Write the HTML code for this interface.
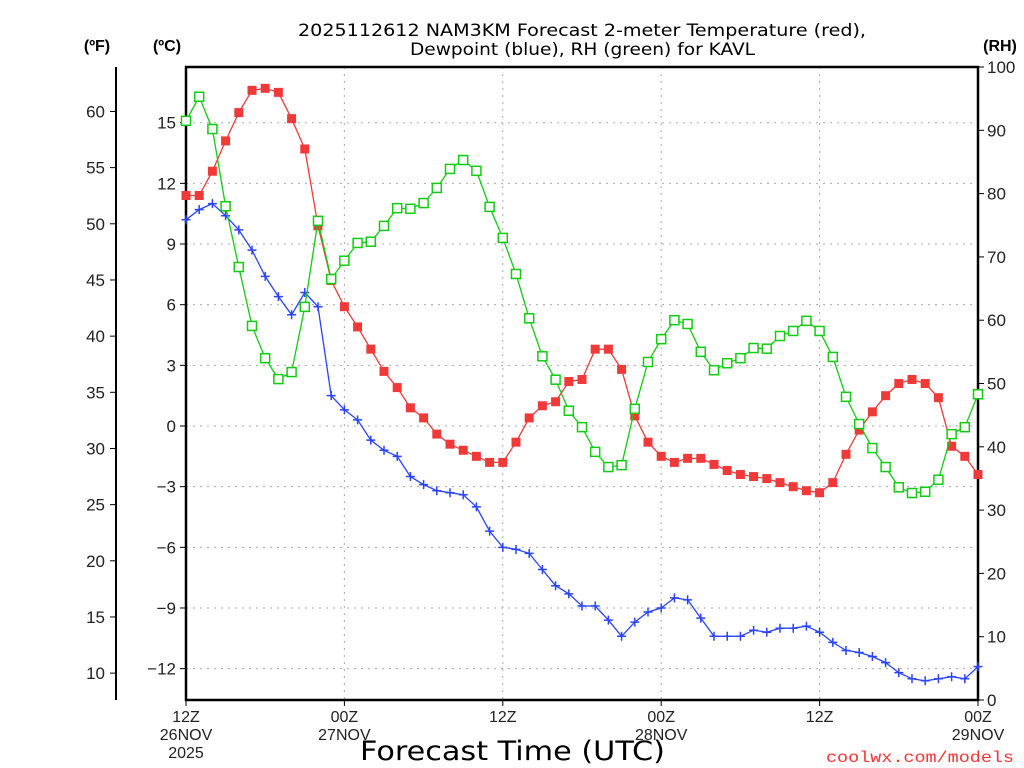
<!DOCTYPE html>
<html><head><meta charset="utf-8"><style>
html,body{margin:0;padding:0;background:#fff;}
svg{display:block;font-family:"Liberation Sans","DejaVu Sans",sans-serif;}
</style></head><body>
<svg id="chart" width="1024" height="768" viewBox="0 0 1024 768" xmlns="http://www.w3.org/2000/svg">
<text x="298" y="36" font-size="17" textLength="568" lengthAdjust="spacingAndGlyphs" font-family="DejaVu Sans, sans-serif" fill="#000">2025112612 NAM3KM Forecast 2-meter Temperature (red),</text>
<text x="410" y="55" font-size="17" textLength="345" lengthAdjust="spacingAndGlyphs" font-family="DejaVu Sans, sans-serif" fill="#000">Dewpoint (blue), RH (green) for KAVL</text>
<text x="97" y="51" font-size="16" font-weight="bold" text-anchor="middle">(ºF)</text>
<text x="167" y="51" font-size="16" font-weight="bold" text-anchor="middle">(ºC)</text>
<text x="1000" y="51" font-size="16" font-weight="bold" text-anchor="middle">(RH)</text>
<text x="360" y="760" font-size="27" textLength="305" lengthAdjust="spacingAndGlyphs" font-family="DejaVu Sans, sans-serif">Forecast Time (UTC)</text>
<text x="826" y="762" font-size="16" textLength="188" lengthAdjust="spacingAndGlyphs" fill="#ff3333" font-family="Liberation Mono, monospace">coolwx.com/models</text>
<g id="grid"></g><g id="axes"></g><g id="series"></g>
</svg>
<script>
const hours = Array.from({length:61},(_,i)=>i);
const tempC = [11.4,11.4,12.6,14.1,15.5,16.6,16.7,16.5,15.2,13.7,9.9,7.2,5.9,4.9,3.8,2.7,1.9,0.9,0.4,-0.4,-0.9,-1.2,-1.5,-1.8,-1.8,-0.8,0.4,1.0,1.2,2.2,2.3,3.8,3.8,2.8,0.5,-0.8,-1.5,-1.8,-1.6,-1.6,-1.9,-2.2,-2.4,-2.5,-2.6,-2.8,-3.0,-3.2,-3.3,-2.8,-1.4,-0.2,0.7,1.5,2.1,2.3,2.1,1.4,-1.0,-1.5,-2.4];
const dewC = [10.2,10.7,11.0,10.4,9.7,8.7,7.4,6.4,5.5,6.6,5.9,1.5,0.8,0.3,-0.7,-1.2,-1.5,-2.5,-2.9,-3.2,-3.3,-3.4,-4.0,-5.2,-6.0,-6.1,-6.3,-7.1,-7.9,-8.3,-8.9,-8.9,-9.6,-10.4,-9.7,-9.2,-9.0,-8.5,-8.6,-9.5,-10.4,-10.4,-10.4,-10.1,-10.2,-10.0,-10.0,-9.9,-10.2,-10.7,-11.1,-11.2,-11.4,-11.7,-12.2,-12.5,-12.6,-12.5,-12.4,-12.5,-11.9];
const rh = [91.5,95.3,90.2,78.0,68.4,59.1,54.0,50.7,51.8,62.1,75.7,66.5,69.4,72.2,72.4,74.9,77.7,77.6,78.5,80.9,83.9,85.3,83.6,77.9,73.0,67.3,60.3,54.3,50.6,45.7,43.1,39.2,36.8,37.1,46.0,53.4,57.0,60.0,59.4,55.0,52.1,53.2,54.0,55.6,55.5,57.5,58.3,59.9,58.3,54.2,47.9,43.6,39.8,36.8,33.6,32.7,32.9,34.8,42.0,43.1,48.3];
const cTicks = [15,12,9,6,3,0,-3,-6,-9,-12];
const fTicks = [60,55,50,45,40,35,30,25,20,15,10];
const rhTicks = [100,90,80,70,60,50,40,30,20,10,0];
const xTickHours = [0,12,24,36,48,60];
const xTickLabels = [["12Z","26NOV","2025"],["00Z","27NOV"],["12Z"],["00Z","28NOV"],["12Z"],["00Z","29NOV"]];

const L=186,R=978,T=67,B=700;
const x = h => L + h*(R-L)/60;
const yC = c => 426 - c*20.22;
const yF = f => yC((f-32)*5/9);
const yRH = r => B - r*(B-T)/100;
const NS="http://www.w3.org/2000/svg";
function mk(parent,tag,attrs){const e=document.createElementNS(NS,tag);for(const k in attrs)e.setAttribute(k,attrs[k]);parent.appendChild(e);return e;}
const grid=document.getElementById('grid'), axes=document.getElementById('axes'), ser=document.getElementById('series');

cTicks.forEach(c=>{
  const g=mk(grid,'line',{x1:L,x2:R,y1:yC(c),y2:yC(c),stroke:'#aaa','stroke-dasharray':'2,5'});
  
  
  const t=mk(axes,'line',{x1:L-6,x2:L,y1:yC(c),y2:yC(c),stroke:'#000'});
  
  
  const lb=mk(axes,'text',{x:L-10,y:yC(c)+6,'font-size':17,'text-anchor':'end',fill:'#222'});
  lb.textContent=c<0?'\u2212'+(-c):String(c);
  
  
});
xTickHours.forEach((h,i)=>{
  if(h>0&&h<60){const g=mk(grid,'line',{x1:x(h),x2:x(h),y1:T,y2:B,stroke:'#aaa','stroke-dasharray':'2,5'});
  
  }
  const t=mk(axes,'line',{x1:x(h),x2:x(h),y1:B,y2:B+6,stroke:'#000'});
  
  
  xTickLabels[i].forEach((s,j)=>{
    const lb=mk(axes,'text',{x:x(h),y:B+22+j*18,'font-size':16,'text-anchor':'middle',fill:'#222'});
    lb.textContent=s;
    
    
  });
});
const fl=mk(axes,'line',{x1:116,x2:116,y1:67,y2:700,stroke:'#000','stroke-width':2});


fTicks.forEach(f=>{
  const t=mk(axes,'line',{x1:110,x2:116,y1:yF(f),y2:yF(f),stroke:'#000'});
  
  
  const lb=mk(axes,'text',{x:105,y:yF(f)+6,'font-size':17,'text-anchor':'end',fill:'#222'});
  lb.textContent=f;
  
  
});
rhTicks.forEach(r=>{
  const t=mk(axes,'line',{x1:R,x2:R+6,y1:yRH(r),y2:yRH(r),stroke:'#000'});
  
  
  const lb=mk(axes,'text',{x:R+9,y:yRH(r)+6,'font-size':17,'text-anchor':'start',fill:'#222'});
  lb.textContent=r;
  
  
});
const box=mk(axes,'rect',{x:L,y:T,width:R-L,height:B-T,fill:'none',stroke:'#000','stroke-width':2.5});



function series(vals,yf,color,marker,name){
  const pts=vals.map((v,i)=>x(hours[i]).toFixed(1)+','+yf(v).toFixed(1)).join(' ');
  const pl=mk(ser,'polyline',{points:pts,fill:'none',stroke:color,'stroke-width':1.3});
  
  
  vals.forEach((v,i)=>{
    const cx=x(hours[i]), cy=yf(v); let m;
    if(marker==='fill') m=mk(ser,'rect',{x:cx-4.5,y:cy-4.5,width:9,height:9,fill:color});
    else if(marker==='open') m=mk(ser,'rect',{x:cx-4.5,y:cy-4.5,width:9,height:9,fill:'#fff',stroke:color,'stroke-width':1.5});
    else m=mk(ser,'path',{d:`M${cx-4.5},${cy}H${cx+4.5}M${cx},${cy-4.5}V${cy+4.5}`,stroke:color,'stroke-width':1.5});
    
    
  });
}
series(dewC,yC,'#2a44ff','plus','dewpoint');
series(tempC,yC,'#f03a3a','fill','temperature');
series(rh,yRH,'#11cc11','open','rh');
</script>
</body></html>
